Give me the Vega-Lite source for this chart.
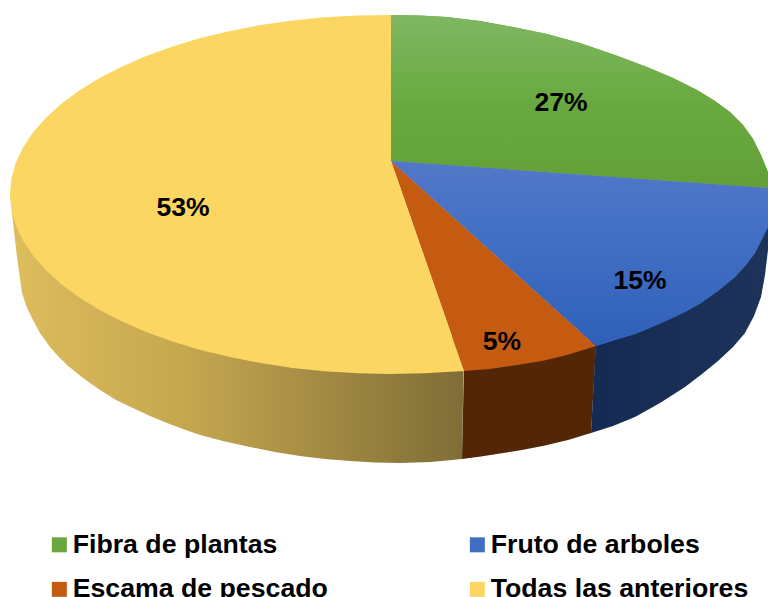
{"$schema":"https://vega.github.io/schema/vega-lite/v6.json","width":768,"height":597,"padding":0,"autosize":{"type":"none"},"background":"white","config":{"view":{"stroke":null}},
"datasets":{
"tops":[
{"s":"Fibra de plantas","i":0,"x":391,"y":161},{"s":"Fibra de plantas","i":1,"x":391,"y":15},{"s":"Fibra de plantas","i":2,"x":420,"y":15.5},{"s":"Fibra de plantas","i":3,"x":447,"y":17},{"s":"Fibra de plantas","i":4,"x":480,"y":21},{"s":"Fibra de plantas","i":5,"x":513,"y":27},{"s":"Fibra de plantas","i":6,"x":547,"y":34},{"s":"Fibra de plantas","i":7,"x":580,"y":43},{"s":"Fibra de plantas","i":8,"x":615,"y":55},{"s":"Fibra de plantas","i":9,"x":647,"y":67},{"s":"Fibra de plantas","i":10,"x":673,"y":78},{"s":"Fibra de plantas","i":11,"x":697,"y":90},{"s":"Fibra de plantas","i":12,"x":715,"y":101},{"s":"Fibra de plantas","i":13,"x":730,"y":112},{"s":"Fibra de plantas","i":14,"x":743,"y":125},{"s":"Fibra de plantas","i":15,"x":753,"y":139},{"s":"Fibra de plantas","i":16,"x":761,"y":155},{"s":"Fibra de plantas","i":17,"x":768,"y":172},{"s":"Fibra de plantas","i":18,"x":768,"y":188},
{"s":"Fruto de arboles","i":0,"x":391,"y":161},{"s":"Fruto de arboles","i":1,"x":768,"y":188},{"s":"Fruto de arboles","i":2,"x":768,"y":227},{"s":"Fruto de arboles","i":3,"x":755,"y":253},{"s":"Fruto de arboles","i":4,"x":746,"y":265},{"s":"Fruto de arboles","i":5,"x":735,"y":277},{"s":"Fruto de arboles","i":6,"x":718,"y":291},{"s":"Fruto de arboles","i":7,"x":701,"y":303},{"s":"Fruto de arboles","i":8,"x":685,"y":312},{"s":"Fruto de arboles","i":9,"x":668,"y":320},{"s":"Fruto de arboles","i":10,"x":652,"y":327},{"s":"Fruto de arboles","i":11,"x":635,"y":334},{"s":"Fruto de arboles","i":12,"x":615,"y":340},{"s":"Fruto de arboles","i":13,"x":596,"y":346},
{"s":"Escama de pescado","i":0,"x":391,"y":161},{"s":"Escama de pescado","i":1,"x":596,"y":346},{"s":"Escama de pescado","i":2,"x":567,"y":355},{"s":"Escama de pescado","i":3,"x":542,"y":361},{"s":"Escama de pescado","i":4,"x":517,"y":365},{"s":"Escama de pescado","i":5,"x":490,"y":369},{"s":"Escama de pescado","i":6,"x":464,"y":371},
{"s":"Todas las anteriores","i":0,"x":391,"y":161},{"s":"Todas las anteriores","i":1,"x":464,"y":371},{"s":"Todas las anteriores","i":2,"x":424.2,"y":373.3},{"s":"Todas las anteriores","i":3,"x":391,"y":374},{"s":"Todas las anteriores","i":4,"x":357.8,"y":373.3},{"s":"Todas las anteriores","i":5,"x":324.8,"y":371.3},{"s":"Todas las anteriores","i":6,"x":292.4,"y":367.9},{"s":"Todas las anteriores","i":7,"x":260.7,"y":363.1},{"s":"Todas las anteriores","i":8,"x":230,"y":357.1},{"s":"Todas las anteriores","i":9,"x":200.5,"y":349.9},{"s":"Todas las anteriores","i":10,"x":172.5,"y":341.5},{"s":"Todas las anteriores","i":11,"x":146.1,"y":331.9},{"s":"Todas las anteriores","i":12,"x":121.6,"y":321.3},{"s":"Todas las anteriores","i":13,"x":99.1,"y":309.7},{"s":"Todas las anteriores","i":14,"x":78.9,"y":297.2},{"s":"Todas las anteriores","i":15,"x":61,"y":284},{"s":"Todas las anteriores","i":16,"x":45.7,"y":270.1},{"s":"Todas las anteriores","i":17,"x":33,"y":255.6},{"s":"Todas las anteriores","i":18,"x":23,"y":240.6},{"s":"Todas las anteriores","i":19,"x":15.8,"y":225.2},{"s":"Todas las anteriores","i":20,"x":11.4,"y":209.7},{"s":"Todas las anteriores","i":21,"x":10,"y":194},{"s":"Todas las anteriores","i":22,"x":11.4,"y":178.3},{"s":"Todas las anteriores","i":23,"x":15.8,"y":162.8},{"s":"Todas las anteriores","i":24,"x":23,"y":147.4},{"s":"Todas las anteriores","i":25,"x":33,"y":132.4},{"s":"Todas las anteriores","i":26,"x":45.7,"y":117.9},{"s":"Todas las anteriores","i":27,"x":61,"y":104},{"s":"Todas las anteriores","i":28,"x":78.9,"y":90.8},{"s":"Todas las anteriores","i":29,"x":99.1,"y":78.3},{"s":"Todas las anteriores","i":30,"x":121.6,"y":66.7},{"s":"Todas las anteriores","i":31,"x":146.1,"y":56.1},{"s":"Todas las anteriores","i":32,"x":172.5,"y":46.5},{"s":"Todas las anteriores","i":33,"x":200.5,"y":38.1},{"s":"Todas las anteriores","i":34,"x":230,"y":30.9},{"s":"Todas las anteriores","i":35,"x":260.7,"y":25},{"s":"Todas las anteriores","i":36,"x":292.4,"y":20.5},{"s":"Todas las anteriores","i":37,"x":324.8,"y":17.2},{"s":"Todas las anteriores","i":38,"x":357.8,"y":15.4},{"s":"Todas las anteriores","i":39,"x":391,"y":15}
],
"walls":[
{"s":"Y","i":0,"x":464,"y":340},{"s":"Y","i":1,"x":10,"y":194},{"s":"Y","i":2,"x":12,"y":213},{"s":"Y","i":3,"x":17,"y":257},{"s":"Y","i":4,"x":22,"y":293},{"s":"Y","i":5,"x":27,"y":308},{"s":"Y","i":6,"x":33,"y":320},{"s":"Y","i":7,"x":40,"y":333},{"s":"Y","i":8,"x":50,"y":347},{"s":"Y","i":9,"x":58,"y":356},{"s":"Y","i":10,"x":67,"y":365},{"s":"Y","i":11,"x":83,"y":378},{"s":"Y","i":12,"x":100,"y":390},{"s":"Y","i":13,"x":116,"y":400},{"s":"Y","i":14,"x":133,"y":408},{"s":"Y","i":15,"x":150,"y":416},{"s":"Y","i":16,"x":167,"y":423},{"s":"Y","i":17,"x":183,"y":429},{"s":"Y","i":18,"x":200,"y":435},{"s":"Y","i":19,"x":225,"y":441.5},{"s":"Y","i":20,"x":250,"y":447},{"s":"Y","i":21,"x":275,"y":452},{"s":"Y","i":22,"x":300,"y":456},{"s":"Y","i":23,"x":325,"y":459},{"s":"Y","i":24,"x":350,"y":461},{"s":"Y","i":25,"x":375,"y":462.5},{"s":"Y","i":26,"x":400,"y":463},{"s":"Y","i":27,"x":431,"y":462},{"s":"Y","i":28,"x":462,"y":459},
{"s":"O","i":0,"x":464,"y":365},{"s":"O","i":1,"x":596,"y":340},{"s":"O","i":2,"x":596,"y":346},{"s":"O","i":3,"x":591,"y":433},{"s":"O","i":4,"x":568,"y":440},{"s":"O","i":5,"x":545,"y":445.5},{"s":"O","i":6,"x":522,"y":450},{"s":"O","i":7,"x":500,"y":453.5},{"s":"O","i":8,"x":481,"y":456.5},{"s":"O","i":9,"x":462,"y":459},
{"s":"B","i":0,"x":596,"y":340},{"s":"B","i":1,"x":768,"y":200},{"s":"B","i":2,"x":768,"y":250},{"s":"B","i":3,"x":765,"y":275},{"s":"B","i":4,"x":761,"y":297},{"s":"B","i":5,"x":754,"y":316},{"s":"B","i":6,"x":745,"y":333},{"s":"B","i":7,"x":733,"y":347},{"s":"B","i":8,"x":718,"y":361},{"s":"B","i":9,"x":702,"y":374},{"s":"B","i":10,"x":685,"y":387},{"s":"B","i":11,"x":660,"y":403},{"s":"B","i":12,"x":635,"y":417},{"s":"B","i":13,"x":613,"y":426},{"s":"B","i":14,"x":591,"y":433}
],
"labels":[
{"s":"Fibra de plantas","label":"27%","x":561,"y":103},{"s":"Fruto de arboles","label":"15%","x":640,"y":281},{"s":"Escama de pescado","label":"5%","x":502,"y":342},{"s":"Todas las anteriores","label":"53%","x":183,"y":208}
]},
"encoding":{
"x":{"field":"x","type":"quantitative","axis":null,"scale":{"domain":[0,768],"nice":false,"zero":false}},
"y":{"field":"y","type":"quantitative","axis":null,"scale":{"domain":[597,0],"nice":false,"zero":false}}
},
"layer":[
{"data":{"name":"walls"},"transform":[{"filter":"datum.s==='Y'"}],"mark":{"type":"line","interpolate":"linear-closed","strokeWidth":0,"fill":{"gradient":"linear","x1":0,"y1":0,"x2":1,"y2":0,"stops":[{"offset":0,"color":"#ddbd5c"},{"offset":0.4,"color":"#c4a64f"},{"offset":1,"color":"#7e6d36"}]}},"encoding":{"order":{"field":"i","type":"quantitative"}}},
{"data":{"name":"walls"},"transform":[{"filter":"datum.s==='O'"}],"mark":{"type":"line","interpolate":"linear-closed","strokeWidth":0,"fill":"#522607"},"encoding":{"order":{"field":"i","type":"quantitative"}}},
{"data":{"name":"walls"},"transform":[{"filter":"datum.s==='B'"}],"mark":{"type":"line","interpolate":"linear-closed","strokeWidth":0,"fill":{"gradient":"linear","x1":0,"y1":0,"x2":1,"y2":0,"stops":[{"offset":0,"color":"#142a52"},{"offset":1,"color":"#1d3359"}]}},"encoding":{"order":{"field":"i","type":"quantitative"}}},
{"data":{"name":"tops"},"mark":{"type":"line","interpolate":"linear-closed","filled":true,"strokeWidth":0},"encoding":{"order":{"field":"i","type":"quantitative"},"color":{"field":"s","type":"nominal","scale":{"domain":["Fibra de plantas","Fruto de arboles","Escama de pescado","Todas las anteriores"],"range":["#6aa83f","#3f6ec2","#c55a11","#fcd663"]},"legend":{"title":null,"orient":"none","direction":"horizontal","legendX":46,"legendY":531,"columns":2,"symbolType":"square","symbolSize":225,"symbolStrokeWidth":0,"labelFont":"Liberation Sans","labelFontWeight":"bold","labelFontSize":26.7,"labelColor":"#000000","labelOffset":0,"columnPadding":136,"rowPadding":17,"labelLimit":400}}}},
{"data":{"name":"tops"},"transform":[{"filter":"datum.s==='Fibra de plantas'"}],"mark":{"type":"line","interpolate":"linear-closed","strokeWidth":0,"fill":{"gradient":"linear","x1":0,"y1":0,"x2":0,"y2":1,"stops":[{"offset":0,"color":"#80b763"},{"offset":0.5,"color":"#69aa40"},{"offset":1,"color":"#62a037"}]}},"encoding":{"order":{"field":"i","type":"quantitative"}}},
{"data":{"name":"tops"},"transform":[{"filter":"datum.s==='Fruto de arboles'"}],"mark":{"type":"line","interpolate":"linear-closed","strokeWidth":0,"fill":{"gradient":"linear","x1":0,"y1":0,"x2":0,"y2":1,"stops":[{"offset":0,"color":"#5378c8"},{"offset":0.4,"color":"#4270c5"},{"offset":1,"color":"#2f60b8"}]}},"encoding":{"order":{"field":"i","type":"quantitative"}}},
{"data":{"name":"labels"},"mark":{"type":"text","font":"Liberation Sans","fontWeight":"bold","fontSize":26.5,"color":"#000000","align":"center","baseline":"middle"},"encoding":{"text":{"field":"label","type":"nominal"}}}
]}
